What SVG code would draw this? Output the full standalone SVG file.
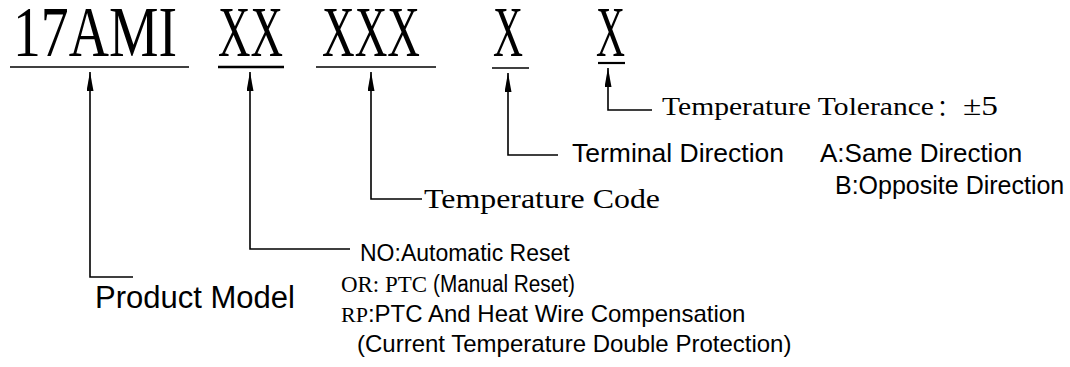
<svg xmlns="http://www.w3.org/2000/svg" width="1070" height="367" viewBox="0 0 1070 367">
<style>
.code{font-family:"Liberation Serif","Noto Sans CJK SC",serif;font-size:72px;fill:#000}
.ser{font-family:"Liberation Serif","Noto Sans CJK SC",serif;fill:#000}
.cjk{font-family:"Noto Sans CJK SC",sans-serif;fill:#000}
.sans{font-family:"Liberation Sans",Arial,sans-serif;fill:#000}
.ul{stroke:#000;stroke-width:1.6;fill:none}
.con{stroke:#000;stroke-width:1.6;fill:none;marker-start:url(#ah)}
</style>
<defs>
<marker id="ah" viewBox="0 0 19 7" refX="19" refY="3.5" markerWidth="19" markerHeight="7" markerUnits="userSpaceOnUse" orient="auto-start-reverse">
<path d="M0 0 L19 3.5 L0 7 Z" fill="#000"/>
</marker>
</defs>
<rect width="1070" height="367" fill="#fff"/>
<g id="code-model">
<text class="code" x="13" y="56" textLength="164" lengthAdjust="spacingAndGlyphs">17AMI</text>
<line class="ul" x1="10" y1="67" x2="189" y2="67"/>
</g>
<g id="code-reset">
<text class="code" x="218" y="56" textLength="65" lengthAdjust="spacingAndGlyphs">XX</text>
<line class="ul" x1="218" y1="67" x2="284" y2="67" style="stroke-width:2.6"/>
</g>
<g id="code-temp">
<text class="code" x="322" y="56" textLength="98" lengthAdjust="spacingAndGlyphs">XXX</text>
<line class="ul" x1="316" y1="67" x2="436" y2="67"/>
</g>
<g id="code-terminal">
<text class="code" x="493" y="56" textLength="30" lengthAdjust="spacingAndGlyphs">X</text>
<line class="ul" x1="492" y1="68" x2="529" y2="68"/>
</g>
<g id="code-tol">
<text class="code" x="596" y="56" textLength="29" lengthAdjust="spacingAndGlyphs">X</text>
<line class="ul" x1="598" y1="63" x2="625" y2="63" style="stroke-width:2.2"/>
</g>
<g id="connectors">
<path class="con" d="M90 72 L90 277 L133 277"/>
<path class="con" d="M250 72 L250 249 L350 249"/>
<path class="con" d="M371 72 L371 199 L422 199"/>
<path class="con" d="M508 73 L508 155 L558 155"/>
<path class="con" d="M608 68 L608 110 L652 110"/>
</g>
<g id="label-model">
<text class="sans" x="95" y="308" font-size="31">Product Model</text>
</g>
<g id="label-reset">
<text class="sans" x="360" y="261" font-size="23">NO:Automatic Reset</text>
<text class="ser" x="341" y="292" font-size="24" textLength="86" lengthAdjust="spacingAndGlyphs">OR: PTC</text>
<text class="sans" x="433" y="292" font-size="23" textLength="142" lengthAdjust="spacingAndGlyphs">(Manual Reset)</text>
<text x="341" y="322"><tspan class="ser" font-size="22">RP</tspan><tspan class="sans" font-size="24">:PTC And Heat Wire Compensation</tspan></text>
<text class="sans" x="357" y="352" font-size="24">(Current Temperature Double Protection)</text>
</g>
<g id="label-temp">
<text class="ser" x="424" y="208" font-size="28" textLength="236" lengthAdjust="spacingAndGlyphs">Temperature Code</text>
</g>
<g id="label-terminal">
<text class="sans" x="572" y="162" font-size="26.5">Terminal Direction</text>
<text class="sans" x="820" y="162" font-size="26">A:Same Direction</text>
<text class="sans" x="835" y="194" font-size="25">B:Opposite Direction</text>
</g>
<g id="label-tol">
<text class="ser" x="662" y="115" font-size="25" textLength="272" lengthAdjust="spacingAndGlyphs">Temperature Tolerance</text>
<text class="cjk" x="937" y="115" font-size="22">：</text>
<text class="ser" x="963" y="115" font-size="27" textLength="35" lengthAdjust="spacingAndGlyphs">±5</text>
</g>
</svg>
